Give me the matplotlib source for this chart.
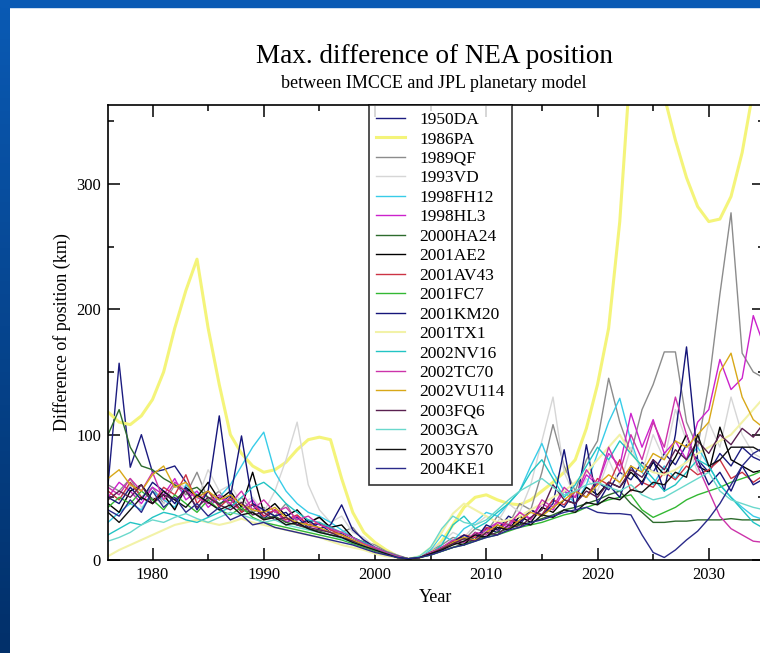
import numpy as np
import matplotlib
matplotlib.use('Agg')
import matplotlib.pyplot as plt
from matplotlib.patches import Rectangle
from matplotlib.ticker import MultipleLocator
from matplotlib.colors import LinearSegmentedColormap

plt.rcParams['font.family'] = 'serif'
plt.rcParams['font.serif'] = ['Liberation Serif']

# yearly samples
years = np.arange(1976, 2036)

names = ['1950DA', '1986PA', '1989QF', '1993VD', '1998FH12', '1998HL3',
         '2000HA24', '2001AE2', '2001AV43', '2001FC7', '2001KM20', '2001TX1',
         '2002NV16', '2002TC70', '2002VU114', '2003FQ6', '2003GA', '2003YS70',
         '2004KE1']

# max difference (km), 1976..2035
nea_1950DA = [60, 157, 74, 100, 70, 72, 75, 62, 50, 55,
              44, 52, 38, 44, 33, 40, 30, 34, 26, 29,
              22, 21, 16, 13, 9, 6, 3, 1, 2, 5,
              10, 14, 19, 16, 25, 22, 32, 28, 40, 36,
              48, 42, 55, 50, 62, 56, 70, 64, 78, 70,
              85, 76, 92, 80, 70, 85, 75, 90, 82, 78]
nea_1986PA = [118, 110, 108, 115, 128, 150, 185, 215, 240, 185,
              140, 100, 85, 75, 70, 72, 78, 88, 96, 98,
              96, 65, 38, 22, 14, 8, 3, 0.5, 2, 6,
              15, 28, 42, 50, 52, 48, 45, 44, 48, 55,
              62, 70, 80, 105, 140, 185, 270, 400, 480, 420,
              370, 335, 305, 282, 270, 272, 290, 325, 375, 420]
nea_1989QF = [60, 55, 65, 50, 58, 45, 60, 52, 70, 48,
              55, 42, 50, 38, 42, 35, 45, 30, 28, 35,
              24, 22, 26, 15, 12, 7, 4, 1, 2, 8,
              12, 18, 16, 25, 22, 35, 28, 45, 40, 70,
              108, 75, 55, 80, 95, 145, 110, 85, 120, 140,
              166, 166, 110, 90, 140, 212, 277, 165, 150, 145]
nea_1993VD = [55, 48, 60, 42, 50, 45, 62, 58, 48, 72,
              55, 60, 45, 50, 38, 55, 80, 110, 60, 40,
              30, 35, 22, 18, 10, 6, 3, 1, 3, 8,
              14, 22, 18, 28, 35, 30, 45, 38, 60, 95,
              130, 70, 50, 65, 55, 80, 60, 90, 70, 100,
              80, 120, 95, 70, 110, 90, 130, 100, 85, 80]
nea_1998FH12 = [30, 38, 45, 40, 55, 48, 42, 60, 52, 45,
                50, 60, 75, 90, 102, 70, 55, 45, 38, 35,
                30, 24, 18, 12, 8, 5, 2, 1, 3, 8,
                20, 15, 25, 30, 38, 35, 45, 55, 75, 93,
                70, 55, 45, 60, 85, 110, 129, 95, 70, 60,
                75, 65, 80, 90, 75, 60, 50, 42, 35, 32]
nea_1998HL3 = [50, 62, 55, 45, 58, 52, 65, 48, 55, 42,
               50, 45, 40, 48, 35, 40, 30, 35, 28, 25,
               22, 20, 15, 12, 8, 5, 2, 1, 2, 5,
               9, 14, 12, 20, 24, 30, 26, 38, 33, 45,
               40, 55, 50, 68, 60, 85, 75, 117, 90, 112,
               85, 95, 80, 110, 120, 160, 136, 145, 195, 170]
nea_2000HA24 = [100, 120, 90, 75, 72, 65, 60, 55, 58, 50,
                45, 48, 40, 38, 33, 35, 30, 28, 25, 23,
                20, 18, 15, 11, 8, 5, 2, 1, 2, 4,
                7, 10, 13, 16, 19, 22, 25, 28, 30, 33,
                36, 40, 42, 45, 48, 52, 55, 45, 38, 30,
                30, 31, 31, 32, 32, 32, 33, 32, 32, 32]
nea_2001AE2 = [45, 38, 55, 60, 48, 52, 40, 58, 50, 62,
               48, 55, 42, 70, 38, 45, 35, 40, 30, 34,
               26, 28, 18, 14, 10, 6, 3, 1, 2, 5,
               8, 14, 12, 22, 18, 28, 24, 35, 30, 42,
               38, 48, 45, 58, 52, 62, 58, 70, 62, 78,
               68, 82, 100, 75, 70, 106, 80, 75, 70, 72]
nea_2001AV43 = [55, 48, 62, 50, 45, 58, 52, 68, 45, 55,
                42, 50, 38, 45, 35, 40, 32, 36, 28, 30,
                24, 20, 16, 12, 9, 5, 2, 1, 2, 6,
                10, 15, 20, 18, 26, 24, 32, 30, 40, 36,
                48, 44, 55, 50, 65, 60, 80, 55, 62, 58,
                70, 64, 75, 68, 72, 80, 65, 70, 62, 68]
nea_2001FC7 = [42, 50, 45, 55, 48, 40, 52, 45, 38, 48,
               40, 36, 42, 34, 30, 28, 26, 24, 22, 20,
               18, 16, 13, 10, 7, 4, 2, 1, 2, 4,
               7, 10, 12, 15, 18, 20, 23, 26, 28, 30,
               33, 36, 38, 42, 45, 48, 50, 52, 40, 34,
               38, 42, 48, 52, 55, 58, 62, 65, 68, 72]
nea_2001KM20 = [50, 45, 58, 48, 62, 55, 45, 58, 40, 55,
                115, 50, 99, 45, 40, 35, 38, 28, 32, 25,
                28, 44, 24, 16, 10, 6, 3, 1, 2, 6,
                10, 14, 20, 16, 28, 24, 35, 30, 40, 35,
                45, 88, 40, 92, 45, 60, 50, 75, 60, 80,
                55, 100, 170, 80, 60, 70, 55, 75, 60, 65]
nea_2001TX1 = [3, 8, 12, 16, 20, 24, 28, 30, 32, 30,
               28, 30, 33, 30, 28, 26, 24, 22, 20, 18,
               15, 12, 10, 8, 5, 3, 2, 1, 3, 10,
               22, 37, 45, 40, 35, 30, 32, 35, 40, 45,
               50, 55, 62, 70, 80, 90, 100, 85, 75, 70,
               68, 72, 78, 85, 90, 95, 100, 110, 120, 130]
nea_2002NV16 = [20, 25, 30, 28, 34, 38, 36, 32, 30, 34,
                38, 42, 50, 58, 62, 55, 45, 38, 32, 30,
                26, 22, 18, 14, 10, 6, 3, 1, 2, 5,
                12, 28, 35, 25, 30, 38, 45, 55, 70, 80,
                65, 50, 60, 75, 90, 80, 95, 85, 75, 65,
                55, 60, 70, 80, 75, 60, 50, 40, 30, 25]
nea_2002TC70 = [58, 52, 65, 55, 70, 48, 62, 55, 50, 45,
                52, 45, 55, 40, 48, 38, 42, 32, 35, 28,
                25, 22, 18, 13, 10, 6, 3, 1, 2, 6,
                10, 16, 14, 22, 20, 30, 28, 38, 32, 48,
                42, 58, 50, 72, 60, 90, 70, 100, 80, 110,
                90, 130, 100, 75, 55, 35, 25, 20, 15, 14]
nea_2002VU114 = [65, 72, 60, 55, 68, 75, 58, 62, 50, 55,
                 48, 52, 44, 40, 38, 42, 34, 30, 28, 26,
                 22, 20, 16, 12, 8, 5, 2, 1, 2, 5,
                 9, 14, 18, 16, 22, 28, 24, 32, 38, 35,
                 42, 48, 55, 50, 60, 68, 62, 75, 70, 85,
                 80, 95, 90, 100, 110, 150, 165, 130, 112, 105]
nea_2003FQ6 = [48, 55, 50, 60, 45, 52, 48, 55, 42, 50,
               44, 40, 46, 36, 38, 32, 34, 28, 26, 24,
               22, 18, 15, 11, 8, 5, 2, 1, 2, 5,
               9, 13, 17, 15, 22, 20, 28, 26, 34, 40,
               60, 48, 45, 55, 50, 62, 58, 72, 66, 80,
               72, 88, 80, 95, 85, 100, 92, 105, 98, 110]
nea_2003GA = [15, 18, 22, 28, 32, 30, 34, 37, 33, 30,
              34, 38, 36, 33, 30, 32, 28, 26, 24, 22,
              20, 17, 14, 11, 8, 5, 2, 1, 3, 10,
              25, 35, 30, 28, 32, 40, 48, 55, 60, 65,
              58, 52, 55, 60, 62, 58, 55, 60, 52, 48,
              50, 55, 60, 65, 70, 55, 48, 45, 42, 40]
nea_2003YS70 = [38, 30, 40, 50, 45, 55, 48, 42, 52, 46,
                40, 44, 36, 38, 32, 34, 28, 30, 25, 22,
                20, 18, 14, 11, 8, 5, 2, 1, 2, 5,
                8, 12, 15, 20, 18, 26, 24, 30, 28, 36,
                34, 40, 38, 46, 44, 50, 48, 56, 54, 62,
                60, 70, 66, 100, 75, 80, 90, 90, 90, 85]
nea_2004KE1 = [40, 35, 48, 38, 55, 42, 50, 38, 45, 35,
               42, 32, 36, 28, 30, 26, 24, 22, 20, 18,
               16, 14, 12, 9, 6, 4, 2, 1, 2, 4,
               7, 10, 12, 15, 18, 20, 24, 26, 30, 32,
               35, 38, 40, 42, 38, 37, 37, 36, 20, 6,
               2, 8, 16, 23, 33, 45, 60, 75, 85, 90]

series = [nea_1950DA, nea_1986PA, nea_1989QF, nea_1993VD, nea_1998FH12,
          nea_1998HL3, nea_2000HA24, nea_2001AE2, nea_2001AV43, nea_2001FC7,
          nea_2001KM20, nea_2001TX1, nea_2002NV16, nea_2002TC70,
          nea_2002VU114, nea_2003FQ6, nea_2003GA, nea_2003YS70, nea_2004KE1]

colors = ['#1c1c80', '#f4f47a', '#8c8c8c', '#d6d6d6', '#38cce8', '#cc22cc',
          '#2d6b2d', '#000000', '#cc3344', '#33b833', '#15157a', '#f2f2a8',
          '#22c4c4', '#cc33aa', '#d8a818', '#5a2050', '#6ad8cc', '#111111',
          '#2a2a8a']
widths = [1.0] * len(names)
widths[1] = 2.2
widths[11] = 1.5

fig = plt.figure(figsize=(7.6, 6.53), dpi=100)

# slide frame: blue bar on top, gradient strip on the left
fig.patches.append(Rectangle((0, 1 - 7 / 653), 1, 7 / 653,
                             transform=fig.transFigure, color='#0a5ab4',
                             zorder=0))
side = fig.add_axes([0, 0, 10 / 760, 1])
grad = LinearSegmentedColormap.from_list('slide', ['#0a5ab4', '#02306a'])
side.imshow(np.linspace(0, 1, 100)[:, None], aspect='auto', cmap=grad)
side.axis('off')

ax = fig.add_axes([108 / 760, 1 - 560 / 653, 656.4 / 760, 455 / 653])
for name, c, lw, vals in zip(names, colors, widths, series):
    ax.plot(years, vals, color=c, lw=lw, label=name)

ax.set_xlim(1976, 2035)
ax.set_ylim(0, 363)
ax.xaxis.set_major_locator(MultipleLocator(10))
ax.xaxis.set_minor_locator(MultipleLocator(5))
ax.yaxis.set_major_locator(MultipleLocator(100))
ax.yaxis.set_minor_locator(MultipleLocator(50))
ax.tick_params(which='both', direction='in', top=True, right=True,
               labelsize=12, width=1.1, pad=5)
ax.tick_params(which='major', length=8.5)
ax.tick_params(which='minor', length=4.5)
for s in ax.spines.values():
    s.set_linewidth(1.2)

leg = ax.legend(loc='upper left', bbox_to_anchor=(0.3976, 1.0), ncol=1,
                fontsize=12.5, frameon=True, fancybox=False, shadow=False,
                handlelength=1.7, handletextpad=0.8, labelspacing=0.19,
                borderpad=0.4, borderaxespad=0)
leg.get_frame().set_edgecolor('black')
leg.get_frame().set_linewidth(1.2)

fig.text(434 / 760, 1 - 63 / 653, 'Max. difference of NEA position',
         ha='center', va='baseline', fontsize=19.5)
fig.text(434 / 760, 1 - 88 / 653, 'between IMCCE and JPL planetary model',
         ha='center', va='baseline', fontsize=13)
fig.text(62 / 760, 1 - 332 / 653, 'Difference of position (km)',
         rotation=90, ha='center', va='center', fontsize=13)
fig.text(436 / 760, 1 - 598 / 653, 'Year', ha='center', va='center',
         fontsize=13)

fig.savefig('out.png', dpi=100)
